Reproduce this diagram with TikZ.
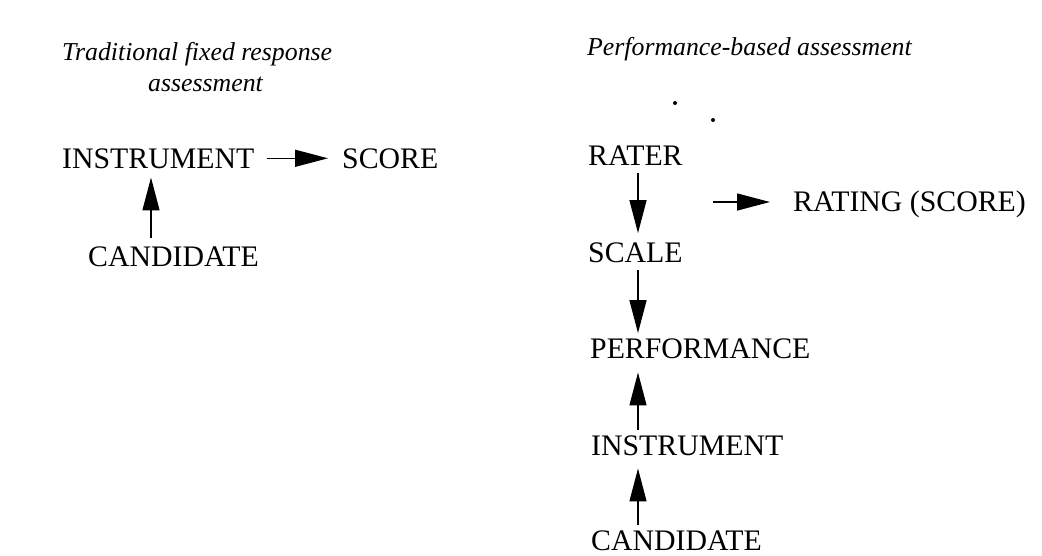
\documentclass[tikz,border=0pt]{standalone}
\usepackage{fontspec}
\setmainfont{Liberation Serif}
\usetikzlibrary{arrows.meta}
\begin{document}
\begin{tikzpicture}[x=1pt,y=-1pt,
  label/.style={inner sep=0pt,anchor=base west,font=\fontsize{29.8}{34}\selectfont},
  heading/.style={inner sep=0pt,anchor=base west,font=\fontsize{25.8}{30}\selectfont\itshape},
  link/.style={line width=1.4pt,-{Triangle[length=33pt,width=17pt]}}]
\useasboundingbox (0,0) rectangle (1042,555);

% left column: traditional fixed response assessment
\node[heading] (thead) at (62,60) {Traditional fixed response};
\node[heading] (thead2) at (148,91) {assessment};
\node[label] (inst) at (62,168) {INSTRUMENT};
\node[label] (score) at (342,168) {SCORE};
\node[label] (cand) at (88,266) {CANDIDATE};
\coordinate (laxis) at (151,0);

\draw[link,shorten <=13pt,shorten >=14pt] (inst.east) -- (score.west);
\draw[link,shorten <=8pt,shorten >=9pt] (cand.north -| laxis) -- (inst.south -| laxis);

% right column: performance-based assessment
\node[heading] (phead) at (587,55) {Performance-based assessment};
\fill (675,103) circle (2pt);
\fill (713,120) circle (2pt);
\node[label] (rater) at (588,165) {RATER};
\node[label] (rating) at (793,211) {RATING (SCORE)};
\node[label] (scale) at (588,262) {SCALE};
\node[label] (perf) at (590,358) {PERFORMANCE};
\node[label] (inst2) at (591,455) {INSTRUMENT};
\node[label] (cand2) at (591,550) {CANDIDATE};
\coordinate (raxis) at (638,0);
\coordinate (rstart) at (713,202);

\draw[link,shorten <=8pt,shorten >=9pt] (rater.south -| raxis) -- (scale.north -| raxis);
\draw[link,shorten >=23pt] (rstart) -- (rstart -| rating.west);
\draw[link,shorten <=8pt,shorten >=5pt] (scale.south -| raxis) -- (perf.north -| raxis);
\draw[link,shorten <=5pt,shorten >=14pt] (inst2.north -| raxis) -- (perf.south -| raxis);
\draw[link,shorten <=5pt,shorten >=13pt] (cand2.north -| raxis) -- (inst2.south -| raxis);
\end{tikzpicture}
\end{document}
